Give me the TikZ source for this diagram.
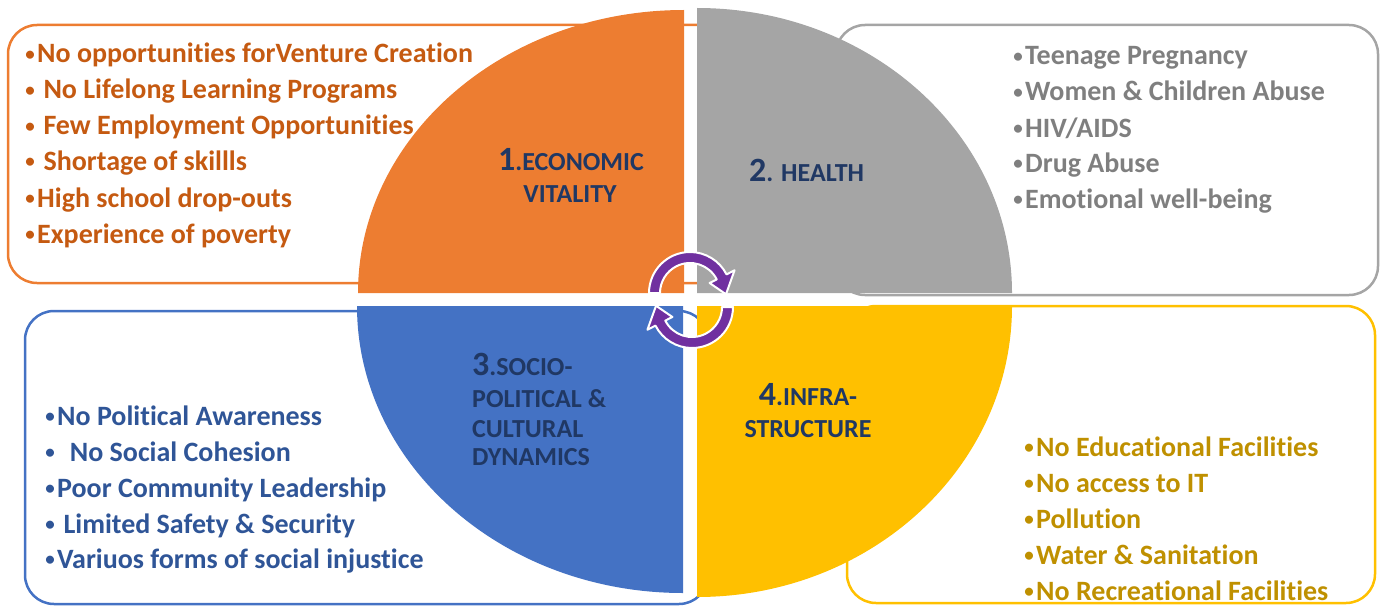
\documentclass[tikz,border=0pt]{standalone}
\usepackage{fontspec}
\setmainfont{Carlito}[RawFeature={-liga;-clig;-calt;-dlig}]
\usetikzlibrary{calc}
\definecolor{orA}{HTML}{ED7D31}
\definecolor{orT}{HTML}{C55A11}
\definecolor{grA}{HTML}{A5A5A5}
\definecolor{grT}{HTML}{7F7F7F}
\definecolor{blA}{HTML}{4472C4}
\definecolor{blT}{HTML}{2F5597}
\definecolor{yeA}{HTML}{FFC000}
\definecolor{yeT}{HTML}{BF9000}
\definecolor{navy}{HTML}{203864}
\definecolor{purp}{HTML}{7030A0}
\newcommand{\bignum}[1]{{\fontsize{34}{34}\selectfont #1}}
\newcommand{\bul}{\makebox[14pt]{\raisebox{2.5pt}{\fontsize{19}{19}\selectfont •}}}
\begin{document}
\begin{tikzpicture}[x=1pt,y=-1pt,
  box/.style={line width=2.5pt, rounded corners=29pt},
  item/.style={anchor=base west, inner sep=0pt, font=\fontsize{28}{34}\selectfont\bfseries},
  lab/.style={inner sep=0pt, text=navy, font=\fontsize{26}{30}\selectfont\bfseries},
  cyc/.style={fill=purp, draw=white, line width=2pt, line join=round}]
\useasboundingbox (0,0) rectangle (1380,607);
% boxes
\draw[box, draw=orA] (8,25) rectangle (740,283);
\draw[box, draw=grA] (836,25) rectangle (1378,295);
\draw[box, draw=blA] (25,311) rectangle (708,604);
\draw[box, draw=yeA] (847,306) rectangle (1375,603);
% pies
\fill[orA] (684,293) -- (358,293) arc[start angle=180, end angle=270, x radius=326, y radius=283] -- cycle;
\fill[grA] (697,293) -- (697,8) arc[start angle=270, end angle=360, x radius=315, y radius=285] -- cycle;
\fill[blA] (683,306) -- (683,593) arc[start angle=90, end angle=180, x radius=326, y radius=287] -- cycle;
\fill[yeA] (697,306) -- (1012,306) arc[start angle=0, end angle=90, x radius=315, y radius=291] -- cycle;
% labels
\node[lab, anchor=base] (l1a) at (571,170) {\bignum{1}.ECONOMIC};
\node[lab, anchor=base] (l1b) at (570,202) {VITALITY};
\node[lab, anchor=base west] (l2) at (749,181) {\bignum{2}. HEALTH};
\node[lab, anchor=base west] (l3a) at (472,375) {\bignum{3}.SOCIO-};
\node[lab, anchor=base west] (l3b) at (472,407) {POLITICAL \&};
\node[lab, anchor=base west] (l3c) at (472,437) {CULTURAL};
\node[lab, anchor=base west] (l3d) at (472,465) {DYNAMICS};
\node[lab, anchor=base] (l4a) at (808,405) {\bignum{4}.INFRA-};
\node[lab, anchor=base] (l4b) at (808,437) {STRUCTURE};
% orange list
\node[item, text=orT] (o1) at (23,63) {\bul No opportunities forVenture Creation};
\node[item, text=orT] (o2) at (23,99) {\bul\ No Lifelong Learning Programs};
\node[item, text=orT] (o3) at (23,135) {\bul\ Few Employment Opportunities};
\node[item, text=orT] (o4) at (23,170) {\bul\ Shortage of skillls};
\node[item, text=orT] (o5) at (23,207) {\bul High school drop-outs};
\node[item, text=orT] (o6) at (23,243) {\bul Experience of poverty};
% gray list
\node[item, text=grT] (g1) at (1011,65) {\bul Teenage Pregnancy};
\node[item, text=grT] (g2) at (1011,101) {\bul Women \& Children Abuse};
\node[item, text=grT] (g3) at (1011,137) {\bul HIV/AIDS};
\node[item, text=grT] (g4) at (1011,172) {\bul Drug Abuse};
\node[item, text=grT] (g5) at (1011,208) {\bul Emotional well-being};
% blue list
\node[item, text=blT] (b1) at (43,425) {\bul No Political Awareness};
\node[item, text=blT] (b2) at (43,461) {\bul\ \ No Social Cohesion};
\node[item, text=blT] (b3) at (43,497) {\bul Poor Community Leadership};
\node[item, text=blT] (b4) at (43,533) {\bul\ Limited Safety \& Security};
\node[item, text=blT] (b5) at (43,568) {\bul Variuos forms of social injustice};
% yellow list
\node[item, text=yeT] (y1) at (1022,456) {\bul No Educational Facilities};
\node[item, text=yeT] (y2) at (1022,492) {\bul No access to IT};
\node[item, text=yeT] (y3) at (1022,528) {\bul Pollution};
\node[item, text=yeT] (y4) at (1022,564) {\bul Water \& Sanitation};
\node[item, text=yeT] (y5) at (1022,600) {\bul No Recreational Facilities};
% cycle arrows
\coordinate (C1) at (690,293);
\coordinate (C2) at (692,307);
\draw[cyc] ($(C1)+(180:41)$) arc[start angle=180, end angle=333, radius=41]
  -- ($(C1)+(333:50)$) -- ($(C1)+(2:36)$) -- ($(C1)+(333:22)$) -- ($(C1)+(333:30)$)
  arc[start angle=333, end angle=180, radius=30] -- cycle;
\draw[cyc] ($(C2)+(0:41)$) arc[start angle=0, end angle=153, radius=41]
  -- ($(C2)+(153:50)$) -- ($(C2)+(182:36)$) -- ($(C2)+(153:22)$) -- ($(C2)+(153:30)$)
  arc[start angle=153, end angle=0, radius=30] -- cycle;
\end{tikzpicture}
\end{document}
